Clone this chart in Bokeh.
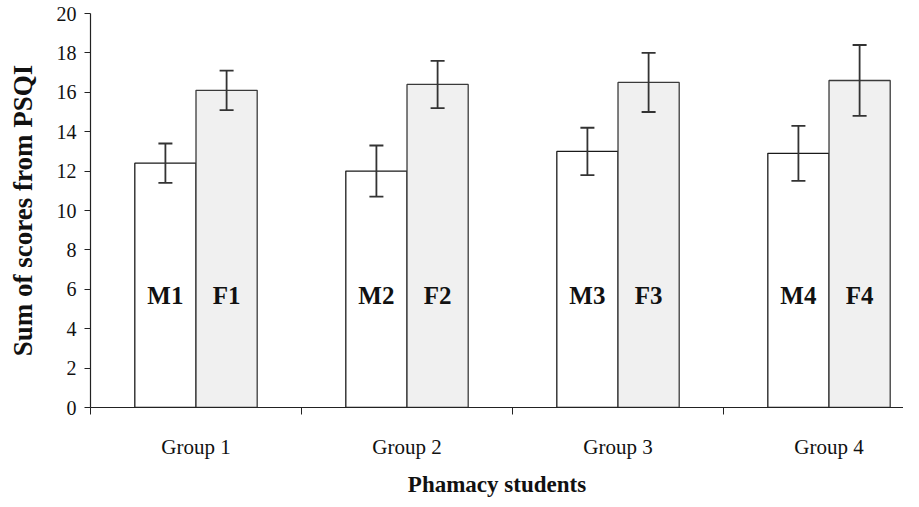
from bokeh.plotting import figure
from bokeh.models import ColumnDataSource, Whisker, FixedTicker, Range1d, TeeHead
from bokeh.core.properties import value
from bokeh.embed import file_html
from bokeh.resources import INLINE

groups = ["Group 1", "Group 2", "Group 3", "Group 4"]
male_labels = ["M1", "M2", "M3", "M4"]
female_labels = ["F1", "F2", "F3", "F4"]
male_mean = [12.4, 12.0, 13.0, 12.9]
male_err = [1.0, 1.3, 1.2, 1.4]
female_mean = [16.1, 16.4, 16.5, 16.6]
female_err = [1.0, 1.2, 1.5, 1.8]
y_ticks = list(range(0, 21, 2))

BAR_W = 0.29
OFF = 0.145
LABEL_Y = 5.7
SERIF = "Liberation Serif"

centers = [i + 0.5 for i in range(len(groups))]
mx = [c - OFF for c in centers]
fx = [c + OFF for c in centers]

msrc = ColumnDataSource(dict(x=mx, top=male_mean, up=[m + e for m, e in zip(male_mean, male_err)],
                             lo=[m - e for m, e in zip(male_mean, male_err)], lab=male_labels,
                             ly=[LABEL_Y] * 4))
fsrc = ColumnDataSource(dict(x=fx, top=female_mean, up=[m + e for m, e in zip(female_mean, female_err)],
                             lo=[m - e for m, e in zip(female_mean, female_err)], lab=female_labels,
                             ly=[LABEL_Y] * 4))

p = figure(width=903, height=499, output_backend="svg", toolbar_location=None,
           x_range=Range1d(0, 3.853), y_range=Range1d(0, 20),
           min_border_left=90, min_border_top=13, min_border_bottom=92, min_border_right=0)
p.outline_line_color = None
p.grid.visible = False
p.background_fill_color = "white"

p.vbar(x="x", top="top", width=BAR_W, bottom=0, source=msrc,
       fill_color="white", line_color="#1a1a1a", line_width=1.3)
p.vbar(x="x", top="top", width=BAR_W, bottom=0, source=fsrc,
       fill_color="#f0f0f0", line_color="#3a3a3a", line_width=1.3)

for src in (msrc, fsrc):
    w = Whisker(source=src, base="x", upper="up", lower="lo", dimension="height",
                level="overlay", line_color="#333333", line_width=1.8,
                upper_head=TeeHead(size=14, line_color="#333333", line_width=1.8),
                lower_head=TeeHead(size=14, line_color="#333333", line_width=1.8))
    p.add_layout(w)
    p.text(x="x", y="ly", text="lab", source=src, text_align="center", text_baseline="middle",
           text_font=value(SERIF), text_font_style="bold", text_font_size="25px", text_color="#111111")

# x axis
xa = p.xaxis[0]
xa.ticker = FixedTicker(ticks=centers, minor_ticks=[0, 1, 2, 3])
xa.major_label_overrides = {c: g for c, g in zip(centers, groups)}
xa.major_tick_line_color = None
xa.minor_tick_in = 0
xa.minor_tick_out = 7
xa.minor_tick_line_color = "#222222"
xa.axis_line_color = "#222222"
xa.axis_line_width = 1.2
xa.major_label_text_font = SERIF
xa.major_label_text_font_size = "21px"
xa.major_label_text_color = "#111111"
xa.major_label_standoff = 20
xa.axis_label = "Phamacy students"
xa.axis_label_text_font = SERIF
xa.axis_label_text_font_style = "bold"
xa.axis_label_text_font_size = "23px"
xa.axis_label_text_color = "#111111"
xa.axis_label_standoff = 10

# y axis
ya = p.yaxis[0]
ya.ticker = FixedTicker(ticks=y_ticks)
ya.minor_tick_line_color = None
ya.major_tick_in = 0
ya.major_tick_out = 6
ya.major_tick_line_color = "#222222"
ya.axis_line_color = "#222222"
ya.axis_line_width = 1.2
ya.major_label_text_font = SERIF
ya.major_label_text_font_size = "20px"
ya.major_label_text_color = "#111111"
ya.major_label_standoff = 8
ya.axis_label = "Sum of scores from PSQI"
ya.axis_label_text_font = SERIF
ya.axis_label_text_font_style = "bold"
ya.axis_label_text_font_size = "27px"
ya.axis_label_text_color = "#111111"
ya.axis_label_standoff = 16

open("out.html", "w").write(file_html(p, INLINE))
